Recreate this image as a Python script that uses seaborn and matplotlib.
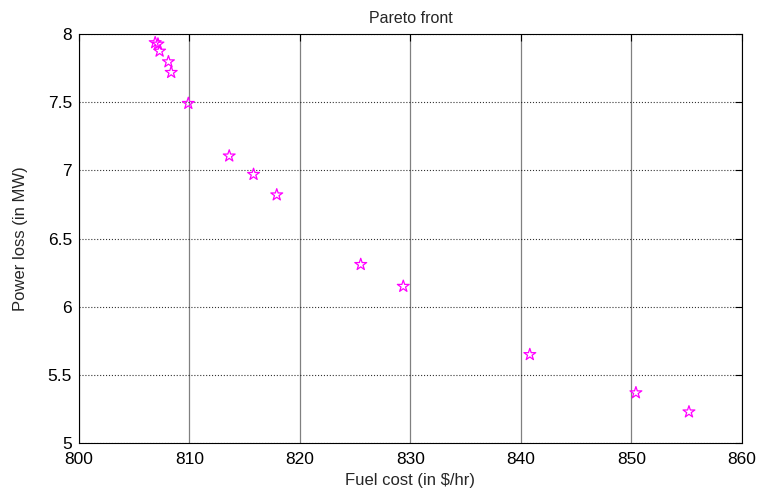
import matplotlib
matplotlib.use("Agg")
import matplotlib.pyplot as plt
import seaborn as sns
import pandas as pd

fuel_cost = [806.9, 807.15, 807.3, 808.1, 808.35, 809.9, 813.6, 815.8, 817.9,
             825.5, 829.35, 840.8, 850.4, 855.2]
power_loss = [7.935, 7.925, 7.873, 7.795, 7.717, 7.49, 7.105, 6.97, 6.82,
              6.31, 6.15, 5.65, 5.37, 5.23]
x_ticks = [800, 810, 820, 830, 840, 850, 860]
y_ticks = [5, 5.5, 6, 6.5, 7, 7.5, 8]
y_tick_labels = ["5", "5.5", "6", "6.5", "7", "7.5", "8"]

sns.set_style("white")
plt.rcParams['font.family'] = ['Liberation Sans', 'DejaVu Sans']

df = pd.DataFrame({"fuel": fuel_cost, "loss": power_loss})

fig = plt.figure(figsize=(7.59, 4.90), dpi=100)
ax = fig.add_axes([0.104, 0.0953, 0.8736, 0.8357])

sns.scatterplot(data=df, x="fuel", y="loss", marker="*", s=80,
                facecolors="none", edgecolor="#ff00ff", linewidth=0.9, ax=ax,
                zorder=3)

ax.set_xlim(800, 860)
ax.set_ylim(5, 8)
ax.set_xticks(x_ticks)
ax.set_yticks(y_ticks)
ax.set_yticklabels(y_tick_labels)
ax.xaxis.grid(True, color="#808080", linestyle="-", linewidth=0.9)
ax.yaxis.grid(True, color="black", linestyle=":", linewidth=0.8, alpha=0.8)
ax.tick_params(direction="in", length=5, width=0.8, top=True, right=True,
               labelsize=12.5, colors="black")
ax.tick_params(axis="x", pad=6.5)
ax.tick_params(axis="y", pad=5)
for sp in ax.spines.values():
    sp.set_color("black")
    sp.set_linewidth(0.8)

ax.set_xlabel("Fuel cost (in $/hr)", fontsize=12, labelpad=4)
ax.set_ylabel("Power loss (in MW)", fontsize=12, labelpad=14)
ax.set_title("Pareto front", fontsize=11.5, pad=8)

fig.savefig("out.png", dpi=100)
